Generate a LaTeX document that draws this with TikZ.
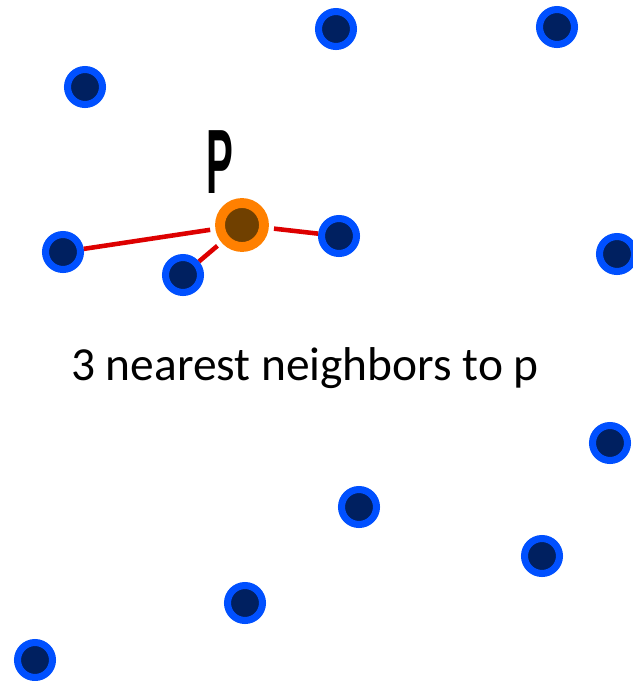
\documentclass[tikz,border=0pt]{standalone}
\usepackage{fontspec}
\setmainfont{Carlito}
\newfontfamily\labelfont{Liberation Sans}
\definecolor{ptblue}{HTML}{0050FF}
\definecolor{ptnavy}{HTML}{002060}
\definecolor{porange}{HTML}{FF8000}
\definecolor{pbrown}{HTML}{704000}
\definecolor{nnred}{HTML}{DD0000}

\begin{document}
\begin{tikzpicture}[x=0.02cm, y=-0.02cm,
    pt/.style={circle, draw=ptblue, fill=ptnavy, line width=4pt, minimum size=0.7cm, inner sep=0pt},
    query/.style={circle, draw=porange, fill=pbrown, line width=5.6pt, minimum size=0.88cm, inner sep=0pt},
    nn/.style={draw=nnred, line width=2.6pt, shorten <=3pt}]
    \useasboundingbox (0,0) rectangle (633,681);
    % data points
    \node[pt] (a) at (336,29) {};
    \node[pt] (b) at (557,27) {};
    \node[pt] (c) at (85,87) {};
    \node[pt] (n1) at (63,252) {};
    \node[pt] (n2) at (183,275) {};
    \node[pt] (n3) at (339,236) {};
    \node[pt] (d) at (617,254) {};
    \node[pt] (e) at (610,443) {};
    \node[pt] (f) at (359,507) {};
    \node[pt] (g) at (542,556) {};
    \node[pt] (h) at (245,603) {};
    \node[pt] (i) at (35,660) {};
    % query point and its neighbours
    \node[query] (p) at (242,225) {};
    \draw[nn] (p) -- (n1);
    \draw[nn] (p) -- (n2);
    \draw[nn] (p) -- (n3);
    \node[anchor=base, inner sep=0pt] (plabel) at (220,193) {\scalebox{0.44}[1]{\fontsize{52}{54}\selectfont\labelfont\bfseries P}};
    \node[anchor=base, inner sep=0pt] (caption) at (305,380) {\fontsize{27}{30}\selectfont 3 nearest neighbors to p};
\end{tikzpicture}
\end{document}
